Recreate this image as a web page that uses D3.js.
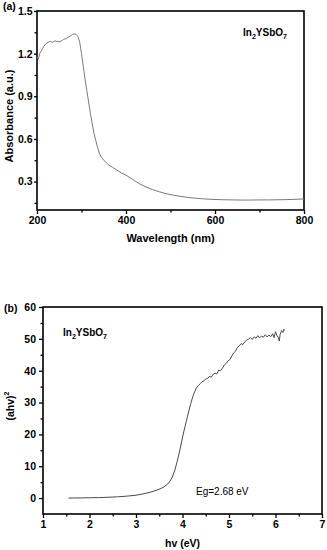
<!DOCTYPE html>
<html><head><meta charset="utf-8">
<script src="https://cdn.jsdelivr.net/npm/d3@7/dist/d3.min.js"></script>
<style>body{margin:0;background:#fff}svg{display:block}text{font-family:"Liberation Sans",Arial,sans-serif;font-weight:bold;fill:#000}</style>
</head><body>
<script>
// Panel (a): absorbance vs wavelength
const wavelength = [200,203,206,210,215,220,225,230,235,240,245,250,255,260,265,270,275,280,284,288,292,296,300,304,308,312,316,320,324,328,332,336,340,345,350,355,360,370,380,390,400,415,430,445,460,475,490,505,520,540,560,580,600,620,640,660,680,700,720,740,760,780,800];
const absorbance = [1.18,1.16,1.20,1.22,1.25,1.27,1.28,1.285,1.28,1.29,1.285,1.283,1.29,1.30,1.305,1.315,1.325,1.335,1.34,1.335,1.32,1.28,1.20,1.11,1.02,0.94,0.86,0.78,0.71,0.64,0.59,0.54,0.50,0.47,0.45,0.435,0.42,0.40,0.38,0.36,0.345,0.315,0.285,0.262,0.243,0.228,0.215,0.205,0.197,0.188,0.182,0.177,0.174,0.172,0.171,0.17,0.17,0.171,0.171,0.172,0.173,0.175,0.178];
const xTicksA = [200,400,600,800];
const yTicksA = [0.3,0.6,0.9,1.2,1.5];

// Panel (b): Tauc plot
const energy = [1.55,1.8,2.0,2.2,2.4,2.6,2.8,3.0,3.15,3.3,3.45,3.55,3.62,3.68,3.73,3.78,3.83,3.88,3.93,3.98,4.03,4.08,4.13,4.18,4.22,4.26,4.30,4.34,4.38,4.42,4.46,4.50,4.54,4.58,4.62,4.66,4.70,4.74,4.78,4.82,4.86,4.90,4.94,4.98,5.02,5.06,5.10,5.14,5.18,5.22,5.26,5.30,5.34,5.38,5.42,5.46,5.50,5.54,5.58,5.62,5.66,5.70,5.74,5.78,5.82,5.86,5.90,5.94,5.97,6.00,6.03,6.06,6.08,6.10,6.13,6.16,6.18,6.20];
const tauc = [0.0,0.05,0.1,0.15,0.25,0.4,0.6,0.9,1.3,1.8,2.5,3.1,3.7,4.4,5.3,6.6,8.5,11.2,14.2,17.6,21.0,24.0,27.0,29.8,31.8,33.3,34.6,35.3,35.9,36.5,36.8,37.4,37.6,38.2,38.0,38.9,39.2,39.0,40.2,40.0,40.8,41.8,42.3,43.1,43.5,44.6,45.6,46.1,47.3,47.8,48.5,48.2,49.1,49.6,49.9,50.4,49.8,50.6,50.2,51.0,50.3,50.9,50.5,51.3,50.6,51.2,50.7,51.6,50.4,52.2,51.1,50.4,49.3,51.4,52.6,52.0,53.0,52.6];
const xTicksB = [1,2,3,4,5,6,7];
const yTicksB = [0,10,20,30,40,50,60];

const W = 327, H = 550;
const svg = d3.select("body").append("svg").attr("width", W).attr("height", H);

function panel(o) {
  const x = d3.scaleLinear().domain(o.xd).range([o.l, o.r]);
  const y = d3.scaleLinear().domain(o.yd).range([o.b, o.t]);
  const g = svg.append("g");
  const xAx = d3.axisBottom(x).tickValues(o.xMinor).tickSize(2.5).tickFormat("");
  g.append("g").attr("transform", `translate(0,${o.b})`).call(xAx).call(s => s.select(".domain").remove());
  const yAx = d3.axisLeft(y).tickValues(o.yMinor).tickSize(2.5).tickFormat("");
  g.append("g").attr("transform", `translate(${o.l},0)`).call(yAx).call(s => s.select(".domain").remove());
  const xMaj = d3.axisBottom(x).tickValues(o.xt).tickSize(4).tickPadding(3).tickFormat(o.xf);
  g.append("g").attr("transform", `translate(0,${o.b})`).call(xMaj).call(s => s.select(".domain").remove())
    .selectAll("text").style("font-size", "10.5px").style("font-family", '"Liberation Sans",Arial,sans-serif').style("font-weight", "bold");
  const yMaj = d3.axisLeft(y).tickValues(o.yt).tickSize(o.yts).tickPadding(o.ytp).tickFormat(o.yf);
  g.append("g").attr("transform", `translate(${o.l},0)`).call(yMaj).call(s => s.select(".domain").remove())
    .selectAll("text").style("font-size", "10.5px").style("font-family", '"Liberation Sans",Arial,sans-serif').style("font-weight", "bold");
  g.selectAll(".tick line").attr("stroke", "#000").attr("stroke-width", 1.3);
  g.append("rect").attr("x", o.l).attr("y", o.t).attr("width", o.r - o.l).attr("height", o.b - o.t)
    .attr("fill", "none").attr("stroke", "#000").attr("stroke-width", 1.6);
  const line = d3.line().x(d => x(d[0])).y(d => y(d[1]));
  g.append("path").datum(o.xs.map((v, i) => [v, o.ys[i]])).attr("d", line)
    .attr("fill", "none").attr("stroke", o.color).attr("stroke-width", 1);
  return {x, y, g};
}

panel({l:37, r:304, t:11, b:210, xd:[200,800], yd:[0.1,1.5],
  xt:xTicksA, yt:yTicksA, xMinor:[300,500,700], yMinor:[0.15,0.45,0.75,1.05,1.35],
  xf:d3.format("d"), yf:d3.format(".1f"), yts:3, ytp:1.5, xs:wavelength, ys:absorbance, color:"#7a7a7a"});
panel({l:43, r:322, t:307, b:514, xd:[1,7], yd:[-5,60],
  xt:xTicksB, yt:yTicksB, xMinor:[1.5,2.5,3.5,4.5,5.5,6.5], yMinor:[5,15,25,35,45,55],
  xf:d3.format("d"), yf:d3.format("d"), yts:4, ytp:3, xs:energy, ys:tauc, color:"#4a4a4a"});

svg.append("text").attr("x", 3).attr("y", 10).style("font-size", "10.5px").text("(a)");
svg.append("text").attr("x", 4).attr("y", 312).style("font-size", "10.5px").text("(b)");
svg.append("text").attr("x", 170.5).attr("y", 242).attr("text-anchor", "middle").style("font-size", "11px").text("Wavelength (nm)");
svg.append("text").attr("x", 182.5).attr("y", 547).attr("text-anchor", "middle").style("font-size", "10.5px").text("hv (eV)");
svg.append("text").attr("transform", "translate(13,116) rotate(-90)").attr("text-anchor", "middle").style("font-size", "11px").text("Absorbance (a.u.)");
const yb = svg.append("text").attr("transform", "translate(14,406) rotate(-90)").attr("text-anchor", "middle").style("font-size", "10.5px");
yb.append("tspan").text("(ahv)");
yb.append("tspan").attr("dy", -5).style("font-size", "7px").text("2");

function formula(xp, yp) {
  const t = svg.append("text").attr("x", xp).attr("y", yp).style("font-size", "10px");
  t.append("tspan").text("In");
  t.append("tspan").attr("dy", 3).style("font-size", "7px").text("2");
  t.append("tspan").attr("dy", -3).text("YSbO");
  t.append("tspan").attr("dy", 3).style("font-size", "7px").text("7");
}
formula(243, 36);
formula(63, 336);
svg.append("text").attr("x", 196).attr("y", 495).style("font-size", "10px").style("font-weight", "normal").text("Eg=2.68 eV");
</script>
</body></html>
